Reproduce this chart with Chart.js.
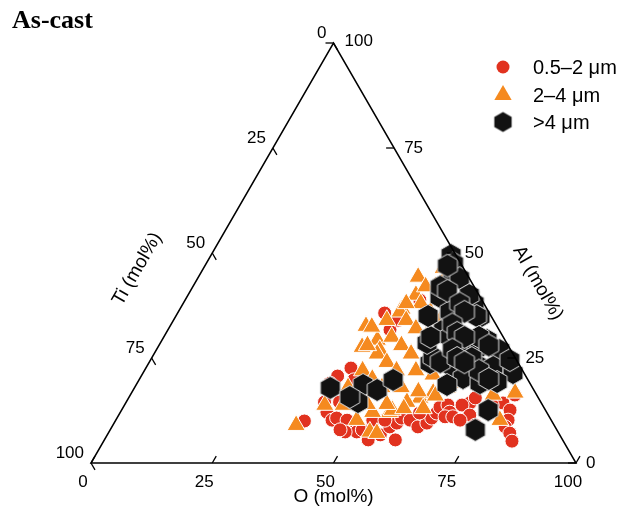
<!DOCTYPE html>
<html>
<head>
<meta charset="utf-8">
<script src="https://cdn.jsdelivr.net/npm/chart.js@4.4.1/dist/chart.umd.min.js"></script>
<style>
  html, body { margin: 0; padding: 0; background: #fff; }
</style>
</head>
<body>
<canvas id="ternary" width="633" height="518"></canvas>
<script>
const titleText = 'As-cast';
const oTitle = 'O (mol%)';
const tiTitle = 'Ti (mol%)';
const alTitle = 'Al (mol%)';
const tickValues = [0, 25, 50, 75, 100];
const sizeLabels = ['0.5–2 μm', '2–4 μm', '>4 μm'];
const sizeColors = ['#e1321f', '#f58a1f', '#121212'];

// each point is [O, Al] in mol%, Ti = 100 - O - Al
const fine = [
  [39,10],[40.5,20.7],[42.3,22.6],[44.3,19.8],[42.7,35.7],[45.8,31.7],[46.3,34],[48.4,38.8],
  [39.8,19],[40.9,14.5],[42.6,12.1],[44.6,10.2],[45.3,10.7],[47.7,10.2],[50.3,9],[51.1,7.4],
  [52,7.9],[53.8,8.6],[56.3,6.7],[57.3,8.6],[58.3,9.5],[58.7,10.7],[60.7,10.2],[63.1,8.6],
  [64.5,9.5],[64.9,10.7],[65.3,11.9],[65.3,13.3],[66.7,13.8],[67.9,12.1],[67.5,11],[69.1,11],
  [53,10.2],[71,14.3],[71.5,15.5],[77.8,14.3],[80.1,12.6],[80.9,10.2],[81.1,8.6],[82.8,7.1],
  [84.2,5.2],[75.8,13.8],[69.6,13.8],[72.4,11.4],[44,14.5],[48.7,7.4],[55.5,10.2],[61.8,11.9],
  [48.4,14.3],[54.4,5.5],[79.3,16.2],[47.4,7.9],[60,5.5],[71,10.2],[74.7,9]
];
const medium = [
  [37.8,9],[41.3,13.8],[45.1,13.8],[49.7,10.2],[53.8,7.4],[55.5,12.1],[40.4,32.6],[45.8,36.7],
  [42.1,27.6],[44.4,29.3],[46.1,26.9],[45.3,44.3],[45.7,36],[41.7,32.4],[49.4,46.4],[55.8,12.6],
  [60.1,15.5],[64.5,17.9],[52,12.1],[55.4,7.1],[57.9,14.5],[62.2,16.7],[64.5,19],[74.8,16.2],
  [79.1,16.7],[79.2,10.2],[47,40],
  [44,18],[45,22],[46,26],[47,30],[48,34],[49,38],[50,42],[51,45],
  [47,16],[48,20],[49,24],[50,28],[51,32],[52,36],[53,40],
  [50,14],[51,18],[52,22],[53,26],[54,30],[55,34],
  [54,14],[55,18],[56,22],[57,26],[58,13],[59,17],[60,21],[61,24],
  [62,13],[63,16],[64,19],[43,28],[44,34],[46,38],[48,42]
];
const coarse = [
  [40.4,17.9],[46.8,18.6],[47.8,14.5],[50.3,17.4],[52.4,19.8],[45.5,15.7],[58,23.8],[63.2,22.9],
  [66.6,20.2],[64.1,18.6],[63.7,27.6],[66.4,27.6],[70.8,26.9],[68.8,22.9],[71.5,22.9],[76.3,21.4],
  [70.7,19],[74.1,19.3],[75.6,12.6],[75.3,7.9],[74.1,24.5],[52,45.2],[58.3,39.5],[62.8,34.8],
  [67,29.3],[57.9,25.2],[55,28.6],[56.8,31.7],[56.1,35.7],[52.2,39.5],[49.5,49.5],[51,47.5],
  [54,44],[60,38],[62,35],[65,30],[68,28],[58,40],[56,36],[59,30],[62,27],[66,25],[69,22],
  [72,20],[60,24],[55,30],[52,35],[51,42],[50,47],[53,41],[57,38],[59,36],[58,33],[60,31],
  [62,30],[61,27],[63,25],[65,24]
];

const H = Math.sqrt(3) / 2;
function toXY(p) {
  return { x: p[0] + p[1] / 2, y: p[1] * H };
}

function makeHexagon(r, fill, stroke) {
  const size = Math.ceil(r * 2 + 3);
  const c = document.createElement('canvas');
  c.width = size; c.height = size;
  const g = c.getContext('2d');
  g.beginPath();
  for (let k = 0; k < 6; k++) {
    const a = Math.PI / 3 * k - Math.PI / 2;
    const px = size / 2 + r * Math.cos(a), py = size / 2 + r * Math.sin(a);
    if (k) g.lineTo(px, py); else g.moveTo(px, py);
  }
  g.closePath();
  g.fillStyle = fill;
  g.fill();
  if (stroke) { g.lineWidth = 1; g.strokeStyle = stroke; g.stroke(); }
  return c;
}
const hexMark = makeHexagon(11.5, sizeColors[2], '#ddd');
const hexLegend = makeHexagon(10, sizeColors[2], null);

const ternaryFrame = {
  id: 'ternaryFrame',
  afterDatasetsDraw(chart) {
    const { ctx, scales: { x, y } } = chart;
    const P = (o, al) => ({ px: x.getPixelForValue(o + al / 2), py: y.getPixelForValue(al * H) });
    const A = P(0, 0), B = P(100, 0), C = P(0, 100);
    ctx.save();
    ctx.strokeStyle = '#000';
    ctx.lineWidth = 1.5;
    ctx.beginPath();
    ctx.moveTo(A.px, A.py); ctx.lineTo(B.px, B.py); ctx.lineTo(C.px, C.py); ctx.closePath();
    ctx.stroke();

    ctx.lineWidth = 1.3;
    ctx.fillStyle = '#000';
    ctx.font = '17px "Liberation Sans", Arial, sans-serif';
    const L = 8;
    tickValues.forEach(v => {
      // O axis (bottom), ticks point up-right
      let p = P(v, 0);
      ctx.beginPath(); ctx.moveTo(p.px, p.py); ctx.lineTo(p.px + L * 0.5, p.py - L * H); ctx.stroke();
      ctx.textAlign = 'center'; ctx.textBaseline = 'middle';
      ctx.fillText(String(v), p.px - 8, p.py + 19);
      // Ti axis (left), ticks point down-right
      p = P(0, 100 - v);
      ctx.beginPath(); ctx.moveTo(p.px, p.py); ctx.lineTo(p.px + L * 0.5, p.py + L * H); ctx.stroke();
      ctx.textAlign = 'right';
      ctx.fillText(String(v), p.px - 7, p.py - 10);
      // Al axis (right), ticks point left
      p = P(100 - v, v);
      ctx.beginPath(); ctx.moveTo(p.px, p.py); ctx.lineTo(p.px - L, p.py); ctx.stroke();
      ctx.textAlign = 'left';
      ctx.fillText(String(v), p.px + (v === 100 ? 11 : 10), p.py - (v === 100 ? 2 : 0));
    });
    ctx.restore();
  },
  afterDraw(chart) {
    const { ctx, scales: { x, y } } = chart;
    const P = (o, al) => ({ px: x.getPixelForValue(o + al / 2), py: y.getPixelForValue(al * H) });
    ctx.save();
    ctx.fillStyle = '#000';
    ctx.font = 'bold 26px "Liberation Serif", "Times New Roman", serif';
    ctx.textAlign = 'left'; ctx.textBaseline = 'alphabetic';
    ctx.fillText(titleText, 12, 28);

    ctx.font = '19px "Liberation Sans", Arial, sans-serif';
    ctx.textAlign = 'center'; ctx.textBaseline = 'middle';
    const b = P(50, 0);
    ctx.fillText(oTitle, b.px, b.py + 34);

    let p = P(0, 50);
    ctx.save();
    ctx.translate(p.px - 75, p.py + 16);
    ctx.rotate(-Math.PI / 3);
    ctx.fillText(tiTitle, 0, 0);
    ctx.restore();

    p = P(50, 50);
    ctx.save();
    ctx.translate(p.px + 83, p.py + 30);
    ctx.rotate(Math.PI / 3);
    ctx.fillText(alTitle, 0, 0);
    ctx.restore();

    // legend
    const lx = 503, rows = [67, 95, 122];
    const styles = ['circle', 'triangle', hexLegend];
    const radii = [6.5, 10, 10];
    ctx.font = '20px "Liberation Sans", Arial, sans-serif';
    ctx.textAlign = 'left';
    rows.forEach((ry, i) => {
      ctx.fillStyle = sizeColors[i];
      Chart.helpers.drawPoint(ctx, {
        pointStyle: styles[i], radius: radii[i], rotation: 0, borderWidth: 0
      }, lx, ry);
      ctx.fillStyle = '#000';
      ctx.fillText(sizeLabels[i], 533, ry + 1);
    });
    ctx.restore();
  }
};

new Chart(document.getElementById('ternary'), {
  type: 'scatter',
  data: {
    datasets: [
      {
        label: sizeLabels[2], data: coarse.map(toXY), pointStyle: hexMark, pointRadius: 11.5,
        backgroundColor: sizeColors[2], borderColor: '#ddd', order: 1
      },
      {
        label: sizeLabels[1], data: medium.map(toXY), pointStyle: 'triangle', pointRadius: 10.5,
        backgroundColor: sizeColors[1], borderColor: '#fff', borderWidth: 1, order: 2
      },
      {
        label: sizeLabels[0], data: fine.map(toXY), pointStyle: 'circle', pointRadius: 7,
        backgroundColor: sizeColors[0], borderColor: '#fff', borderWidth: 1, order: 3
      }
    ]
  },
  options: {
    responsive: false,
    animation: false,
    clip: false,
    layout: { padding: { left: 91, right: 57, top: 43, bottom: 55 } },
    scales: {
      x: { type: 'linear', min: 0, max: 100, display: false },
      y: { type: 'linear', min: 0, max: 100 * H, display: false }
    },
    plugins: { legend: { display: false }, tooltip: { enabled: false } }
  },
  plugins: [ternaryFrame]
});
</script>
</body>
</html>
